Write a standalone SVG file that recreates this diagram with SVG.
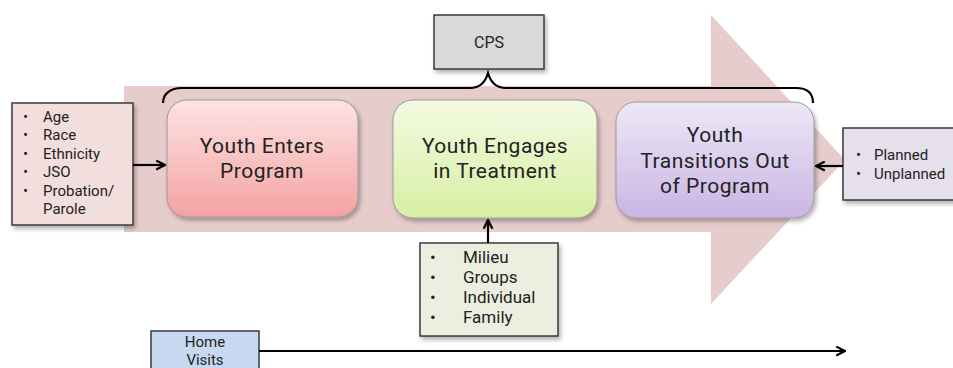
<svg xmlns="http://www.w3.org/2000/svg" width="953" height="368" viewBox="0 0 953 368">
  <style>
    .t { font-family: Roboto, "Liberation Sans", sans-serif; fill: #222; }
    .big { font-size: 21px; letter-spacing: 0.5px; text-anchor: middle; }
    .small { font-size: 15px; }
    .mid { font-size: 17px; }
    .box { stroke: #3a3a3a; stroke-width: 1.5; }
    .stage { stroke: #9a9a9a; stroke-width: 1; }
    .conn { fill: none; stroke: #000; stroke-width: 2.2; }
  </style>
  <defs>
    <linearGradient id="gRed" x1="0" y1="0" x2="0" y2="1">
      <stop offset="0" stop-color="#fde3e3"/>
      <stop offset="1" stop-color="#f4a2a2"/>
    </linearGradient>
    <linearGradient id="gGreen" x1="0" y1="0" x2="0" y2="1">
      <stop offset="0" stop-color="#f4fae3"/>
      <stop offset="1" stop-color="#d7efa2"/>
    </linearGradient>
    <linearGradient id="gPurple" x1="0" y1="0" x2="0" y2="1">
      <stop offset="0" stop-color="#eee8f6"/>
      <stop offset="1" stop-color="#c9b5e4"/>
    </linearGradient>
    <filter id="shadow" x="-10%" y="-10%" width="130%" height="130%">
      <feDropShadow dx="2" dy="3" stdDeviation="2" flood-color="#000" flood-opacity="0.3"/>
    </filter>
    <marker id="arrow" viewBox="0 0 10 10" refX="9" refY="5" markerWidth="5" markerHeight="5" orient="auto" markerUnits="strokeWidth">
      <path d="M1,1 L9,5 L1,9" fill="none" stroke="#000" stroke-width="2"/>
    </marker>
  </defs>

  <!-- large background process arrow -->
  <path id="flow-arrow" d="M124,86 H711 V15 L845,160 L711,304 V232 H124 Z" fill="#e6cdcc"/>

  <!-- brace over the three stages -->
  <path id="brace" class="conn" d="M163,103 C163,94 170,88 182,88 H470 C482,88 486,80 488,73 C490,80 494,88 506,88 H796 C808,88 813,94 813,103"/>

  <g id="cps">
    <rect class="box" x="434" y="15" width="110" height="54" fill="#d9d9d9" filter="url(#shadow)"/>
    <text class="t" x="489" y="48" text-anchor="middle" font-size="16">CPS</text>
  </g>

  <g id="enters">
    <rect class="stage" x="167" y="100" width="191" height="117" rx="20" fill="url(#gRed)" filter="url(#shadow)"/>
    <text class="t big"><tspan x="262" y="153">Youth Enters</tspan><tspan x="262" y="178">Program</tspan></text>
  </g>

  <g id="engages">
    <rect class="stage" x="393" y="100" width="204" height="118" rx="20" fill="url(#gGreen)" filter="url(#shadow)"/>
    <text class="t big"><tspan x="495" y="153">Youth Engages</tspan><tspan x="495" y="178">in Treatment</tspan></text>
  </g>

  <g id="transitions">
    <rect class="stage" x="616" y="102" width="198" height="116" rx="20" fill="url(#gPurple)" filter="url(#shadow)"/>
    <text class="t big"><tspan x="715" y="142">Youth</tspan><tspan x="715" y="168">Transitions Out</tspan><tspan x="715" y="193">of Program</tspan></text>
  </g>

  <g id="demographics">
    <rect class="box" x="12" y="103" width="121" height="122" fill="#f2dedd" filter="url(#shadow)"/>
    <text class="t small">
      <tspan x="23" y="122">•</tspan><tspan x="43" y="122">Age</tspan>
      <tspan x="23" y="140">•</tspan><tspan x="43" y="140">Race</tspan>
      <tspan x="23" y="159">•</tspan><tspan x="43" y="159">Ethnicity</tspan>
      <tspan x="23" y="177">•</tspan><tspan x="43" y="177">JSO</tspan>
      <tspan x="23" y="196">•</tspan><tspan x="43" y="196">Probation/</tspan>
      <tspan x="43" y="214">Parole</tspan>
    </text>
  </g>

  <g id="exit-type">
    <rect class="box" x="843" y="128" width="115" height="72" fill="#e5e0ec" filter="url(#shadow)"/>
    <text class="t small">
      <tspan x="856" y="160">•</tspan><tspan x="874" y="160">Planned</tspan>
      <tspan x="856" y="179">•</tspan><tspan x="874" y="179">Unplanned</tspan>
    </text>
  </g>

  <g id="services">
    <rect class="box" x="420" y="243" width="138" height="93" fill="#ecefdf" filter="url(#shadow)"/>
    <text class="t mid">
      <tspan x="430" y="263">•</tspan><tspan x="463" y="263">Milieu</tspan>
      <tspan x="430" y="283">•</tspan><tspan x="463" y="283">Groups</tspan>
      <tspan x="430" y="303">•</tspan><tspan x="463" y="303">Individual</tspan>
      <tspan x="430" y="323">•</tspan><tspan x="463" y="323">Family</tspan>
    </text>
  </g>

  <g id="home-visits">
    <rect class="box" x="151" y="331" width="108" height="50" fill="#c6d9f1"/>
    <text class="t" text-anchor="middle" font-size="15"><tspan x="205" y="347">Home</tspan><tspan x="205" y="365">Visits</tspan></text>
  </g>

  <g id="connectors">
    <line class="conn" x1="133" y1="165" x2="165" y2="165" marker-end="url(#arrow)"/>
    <line class="conn" x1="843" y1="166" x2="816" y2="166" marker-end="url(#arrow)"/>
    <line class="conn" x1="488" y1="243" x2="488" y2="220" marker-end="url(#arrow)"/>
    <line class="conn" x1="259" y1="351" x2="845" y2="351" marker-end="url(#arrow)"/>
  </g>
</svg>
